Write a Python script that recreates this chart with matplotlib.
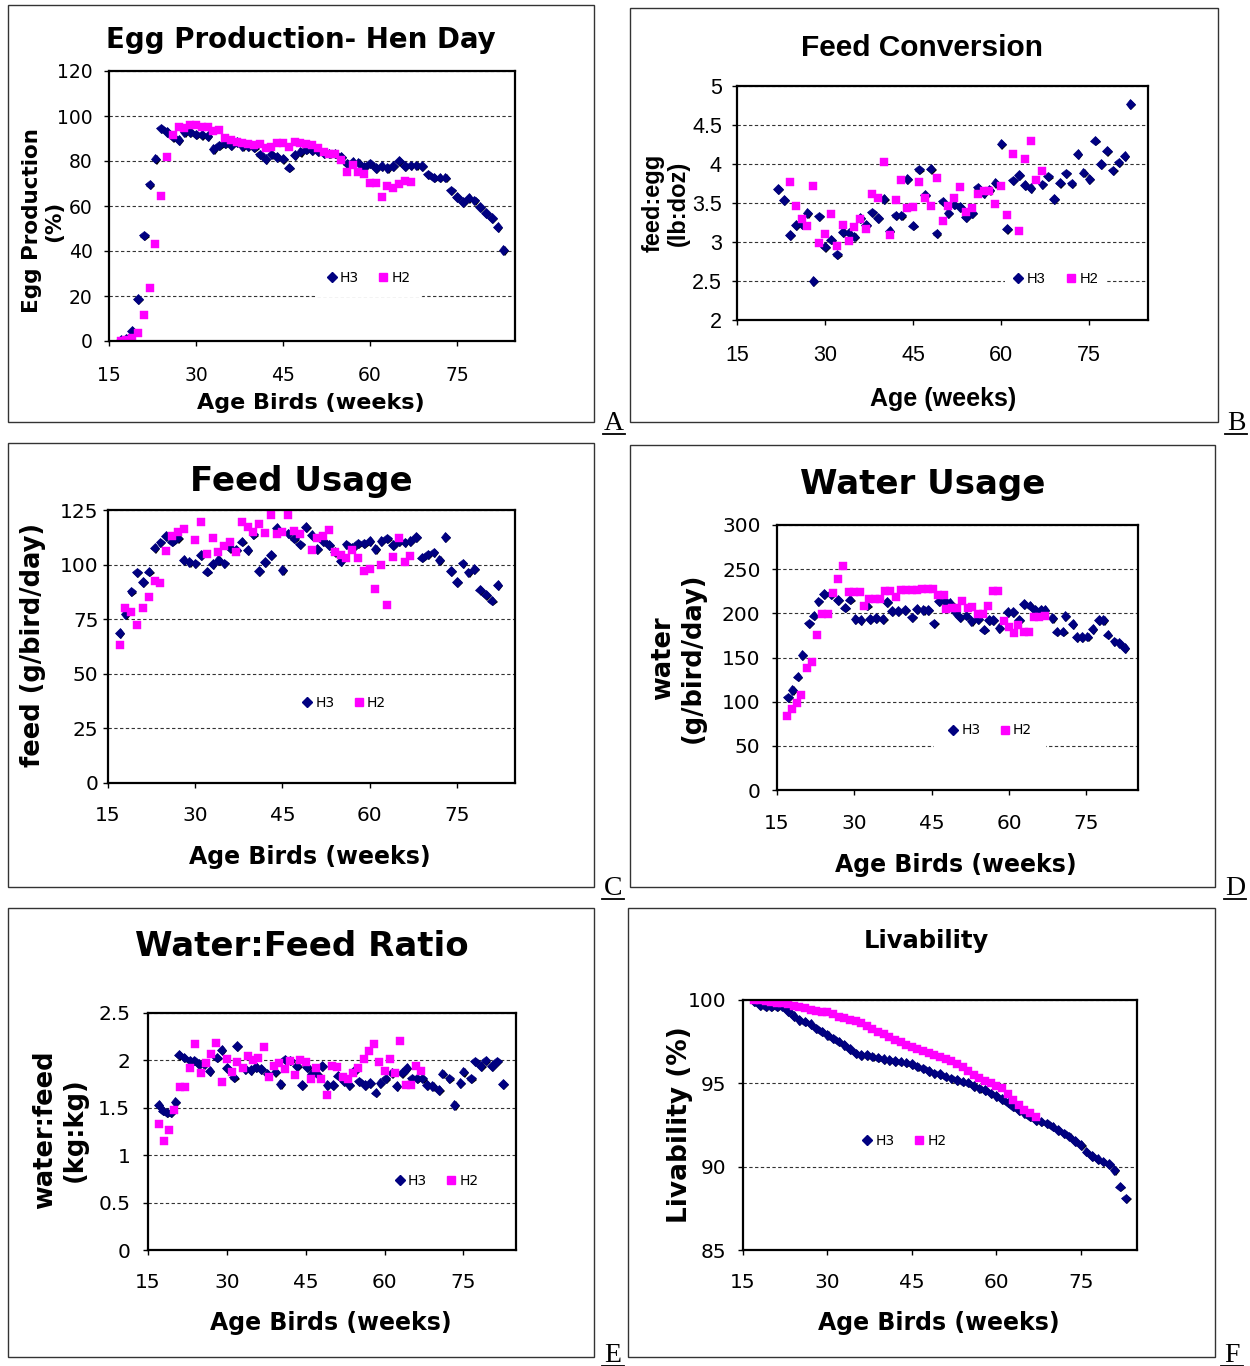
"""
Layer flock performance, H3 vs H2 - six scatter panels (A-F)
"""
import matplotlib
matplotlib.use('Agg')
import matplotlib.pyplot as plt
import matplotlib.patheffects as pe
from matplotlib.lines import Line2D
from matplotlib.patches import Rectangle
from matplotlib.ticker import FormatStrFormatter
import numpy as np

# ---------------- data ----------------
# A: egg production, hen day (%)
egg_h3 = [0.4, 1.2, 4.4, 18.6, 46.9, 69.6, 81, 94.5, 92.9, 90.8, 89.3, 92.9, 92.9, 91.8,
          91.7, 91.2, 85.4, 86.9, 87.8, 87.2, 88.5, 86.6, 86.5, 86, 82.9, 80.8, 83, 81.8,
          81, 77.1, 82.6, 84.1, 85.1, 84.8, 84.4, 83.6, 83.3, 83.3, 81.8, 78.9, 79.6, 79.3,
          77.4, 78.9, 76.9, 77.7, 76.9, 77.7, 80.1, 77.7, 78.1, 78.1, 77.7, 74.1, 72.6, 72.6,
          72.6, 67, 64, 61.8, 63.7, 62.5, 59.5, 56.8, 54.6, 50.6, 40.5]
egg_h2 = [0, 0.3, 1.2, 3.4, 11.6, 23.5, 43.2, 64.4, 81.8, 91.4, 95.2, 94.5, 95.8, 95.8,
          95.2, 94.9, 93.2, 93.8, 90.2, 89.3, 88.5, 87.8, 87.5, 87, 87.5, 85.9, 86.3, 87.8,
          87.8, 86.3, 88.5, 88.1, 87.5, 87, 86, 84.1, 83.3, 83.3, 80.4, 75.1, 78.1, 75.1,
          74.1, 70.2, 70.2, 64, 68.8, 67.9, 69.6, 71.1, 70.5]
egg_h3_wk = np.arange(17, 17 + len(egg_h3))
egg_h2_wk = np.arange(17, 17 + len(egg_h2))

# B: feed conversion (lb feed per dozen eggs)
fc_h3 = [3.68, 3.54, 3.09, 3.22, 3.23, 3.37, 2.5, 3.33, 2.94, 3.03, 2.84, 3.13, 3.12, 3.07,
         3.31, 3.22, 3.38, 3.31, 3.55, 3.14, 3.34, 3.34, 3.81, 3.21, 3.93, 3.6, 3.94, 3.11,
         3.52, 3.37, 3.48, 3.45, 3.32, 3.37, 3.7, 3.63, 3.67, 3.76, 4.26, 3.17, 3.79, 3.86,
         3.73, 3.69, np.nan, 3.74, 3.84, 3.55, 3.76, 3.88, 3.75, 4.13, 3.89, 3.81, 4.3, 4.0,
         4.17, 3.92, 4.02, 4.1, 4.77]
fc_h2 = [3.77, 3.46, 3.29, 3.2, 3.72, 2.99, 3.1, 3.36, 2.95, 3.22, 3.01, 3.19, 3.29, 3.17,
         3.62, 3.56, 4.02, 3.09, 3.54, 3.8, 3.44, 3.45, 3.77, 3.56, 3.46, 3.82, 3.27, 3.46,
         3.56, 3.7, 3.38, 3.43, 3.62, 3.66, 3.66, 3.49, 3.72, 3.35, 4.13, 3.14, 4.06, 4.29,
         3.79, 3.91]
fc_h3_wk = np.arange(22, 22 + len(fc_h3))
fc_h2_wk = np.arange(24, 24 + len(fc_h2))

# C: feed usage (g/bird/day)
feed_h3 = [68.7, 77.4, 87.7, 96.5, 92, 96.8, 107.7, 110.2, 113, 110.5, 112.3, 102.1, 101.1,
           100.6, 104.4, 96.8, 100.2, 102.1, 100.6, 107.7, 106.7, 110.5, 106.7, 113.8, 97.1,
           101.1, 104.4, 116.8, 97.6, 114.3, 112, 109.3, 117.3, 113.5, 107.1, 110.8, 109,
           105.9, 101.7, 109.3, 107.7, 109.7, 109.7, 110.8, 107.1, 110.8, 112, 109, 110.8,
           110.2, 110.8, 112.7, 103.2, 104.7, 105.6, 102.1, 112.7, 97.1, 92, 100.6, 96.5, 98,
           88.5, 86.2, 83.5, 90.7]
feed_h2 = [63.1, 80.1, 78.3, 72.5, 80.1, 85, 92.3, 91.7, 106.2, 113.2, 114.7, 116.5, np.nan,
           111.2, 119.6, 104.7, 112.3, 105.9, 108.6, 110.5, 105.6, 119.6, 117.3, 114.7, 118.7,
           114.4, 122.9, 114.1, 114.7, 122.9, 115.3, 114.1, np.nan, 106.8, 112, 113.2, 115.8,
           105.9, 104.4, 103.2, 106.8, 103.2, 97.1, 98, 88.9, 99.8, 81.3, 103.6, 112.3, 101.4,
           104.1]
feed_h3_wk = np.arange(17, 17 + len(feed_h3))
feed_h2_wk = np.arange(17, 17 + len(feed_h2))

# D: water usage (g/bird/day)
water_h3_wk = [17.1, 18, 19, 19.9, 21.2, 22.1, 23, 24.1, 25.5, 26.8, 28.2, 29.1, 30.2, 31.2,
               32.4, 33, 34.2, 35.5, 36.3, 37.3, 38.5, 39.8, 41.2, 42.1, 43.4, 44.3, 45.4,
               46.4, 47.6, 48.5, 49.6, 50.5, 51.7, 52.7, 54, 55.1, 56.1, 56.9, 58.1, 59.7,
               60.8, 61.9, 62.9, 64, 65, 66.2, 66.9, 68.4, 69.2, 70.4, 70.9, 72.3, 73.1, 74.1,
               75.2, 76.2, 77.4, 78.3, 79.1, 80.4, 81.4, 82.4]
water_h3 = [105, 113.3, 128.4, 152.6, 188.8, 197.5, 213.7, 222, 222, 215.3, 206.6, 215.6,
            193.7, 192.6, 208.8, 193.7, 194.9, 193.7, 212.6, 202.4, 202.4, 203.9, 195.6,
            205.1, 203.9, 203.9, 188.8, 213.7, 213.7, 211.5, 201.3, 195.6, 197.5, 191.1,
            193.7, 181.6, 192.6, 192.6, 183.2, 201.3, 201.3, 192.6, 210.7, 208.8, 203.9,
            203.9, 203.9, 194.9, 179.4, 179.4, 196.8, 188.1, 173, 173, 173.7, 182.4, 192.6,
            192.6, 176, 168.4, 166.2, 160.9]
water_h2_wk = [16.9, 17.9, 18.8, 19.7, 20.8, 21.8, 22.8, 23.8, 24.9, 25.8, 26.8, 27.8, 28.9,
               30, 31, 31.9, 32.9, 34, 35, 35.9, 36.9, 38, 39, 40, 41.1, 42.1, 43.1, 44.2,
               45.2, 46.3, 47.3, 47.8, 48.9, 49.9, 50.8, 52, 52.9, 54, 54.9, 55.9, 56.9, 57.9,
               59, 59.9, 60.9, 61.8, 62.9, 63.9, 64.8, 65.8, 66.9]
water_h2 = [84.2, 91.8, 98.9, 107.3, 138.2, 145, 176, 199.4, 199.4, 222.8, 238.7, 253.8, 224,
            224, 224, 208.5, 216.4, 216.4, 216.4, 225.1, 225.1, 218.3, 226.6, 226.6, 226.6,
            226.6, 227.7, 227.7, 227.7, 221.3, 221.3, 204.7, 206.2, 206.2, 213.7, 206.2,
            206.9, 199.4, 199.4, 208.5, 225.1, 225.1, 191.8, 185, 177.5, 186.9, 179, 179,
            196.4, 196.4, 197.5]

# E: water:feed ratio (kg:kg)
ratio_h3_wk = [17, 17.8, 18.6, 19.3, 20.2, 20.9, 21.9, 22.9, 23.8, 24.7, 25.7, 26.7, 28.1,
               29, 30, 31.3, 31.9, 33.5, 34.5, 35.5, 36.5, 37.7, 39.2, 40.2, 41, 42, 43.3,
               44.3, 45.2, 46.1, 47.1, 48.1, 49.1, 50.2, 51.1, 52.2, 53.3, 54.2, 55.1, 56.3,
               57.2, 58.3, 59.2, 60.2, 61.4, 62.3, 63.3, 64.2, 65.2, 66.2, 67.2, 68.1, 69.1,
               70.3, 71, 72.3, 73.3, 74.4, 75, 76.4, 77.2, 78.3, 79.2, 80.4, 81.4, 82.5]
ratio_h3 = [1.53, 1.47, 1.45, 1.45, 1.56, 2.06, 2.03, 2.0, 2.0, 1.96, 1.96, 1.89, 2.03, 2.11,
            1.92, 1.82, 2.15, 1.91, 1.9, 1.93, 1.91, 1.86, 1.88, 1.75, 2.01, 2.0, 1.94, 1.74,
            1.93, 1.86, 1.86, 1.94, 1.74, 1.74, 1.84, 1.78, 1.74, 1.89, 1.78, 1.74, 1.76,
            1.66, 1.76, 1.81, 1.87, 1.73, 1.87, 1.92, 1.81, 1.81, 1.81, 1.74, 1.73, 1.69,
            1.86, 1.81, 1.53, 1.76, 1.88, 1.81, 1.99, 1.94, 2.0, 1.94, 1.99, 1.75]
ratio_h2 = [1.33, 1.15, 1.27, 1.48, 1.72, 1.72, 1.92, 2.17, 1.87, 1.97, 2.07, 2.18, 1.77, 2.01,
            1.88, 1.98, 1.92, 2.05, 2.0, 2.03, 2.14, 1.82, 1.94, 1.97, 1.91, 1.99, 1.85, 2.0,
            1.98, 1.8, 1.92, 1.8, 1.64, 1.94, 1.93, 1.83, 1.8, 1.87, 1.92, 2.01, 2.1, 2.17,
            1.98, 1.89, 2.01, 1.87, 2.2, 1.74, 1.74, 1.94, 1.89]
ratio_h2_wk = np.arange(17, 17 + len(ratio_h2))

# F: livability (%)
liv_h3 = [99.9, 99.7, 99.6, 99.6, 99.6, 99.6, 99.35, 99.05, 98.8, 98.7, 98.55, 98.3, 98.1,
          97.9, 97.7, 97.5, 97.3, 97.05, 96.8, 96.7, 96.7, 96.6, 96.55, 96.45, 96.4, 96.35,
          96.3, 96.25, 96.15, 96.0, 95.9, 95.75, 95.6, 95.55, 95.4, 95.3, 95.2, 95.1, 95.05,
          94.85, 94.7, 94.6, 94.4, 94.25, 94.05, 93.85, 93.6, 93.4, 93.2, 93.0, 92.8, 92.7,
          92.6, 92.4, 92.2, 92.0, 91.8, 91.55, 91.3, 90.9, 90.65, 90.45, 90.3, 90.15, 89.8,
          88.8, 88.1]
liv_h2 = [100, 100, 99.95, 99.9, 99.85, 99.8, 99.75, 99.65, 99.58, 99.5, 99.4, 99.35, 99.3,
          99.28, 99.16, 99.0, 98.92, 98.82, 98.72, 98.62, 98.45, 98.28, 98.06, 97.95, 97.76,
          97.6, 97.45, 97.3, 97.2, 97.08, 96.95, 96.85, 96.7, 96.58, 96.47, 96.35, 96.15,
          96.0, 95.75, 95.5, 95.3, 95.12, 95.0, 94.85, 94.7, 94.36, 94.0, 93.7, 93.4, 93.2,
          92.96]
liv_h3_wk = np.arange(17, 17 + len(liv_h3))
liv_h2_wk = np.arange(17, 17 + len(liv_h2))

age_ticks = [15, 30, 45, 60, 75]
series_names = ['H3', 'H2']

# ---------------- styling ----------------
W, H = 1250, 1366
NAVY = '#000080'
MAGENTA = '#FF00FF'
SANS = ['DejaVu Sans']
NARROW = ['Liberation Sans Narrow', 'Liberation Sans']
SERIF = ['Liberation Serif', 'DejaVu Serif']
SHADOW = [pe.SimplePatchShadow(offset=(0.8, -0.8), shadow_rgbFace='black', alpha=1.0),
          pe.Normal()]
MS_D, MS_S = 4.8, 5.4

fig = plt.figure(figsize=(W / 100, H / 100), dpi=100)
fig.patch.set_facecolor('white')


def fx(x):
    return x / W


def fy(y):
    return 1 - y / H


def put_text(x, y, s, **kw):
    fig.text(fx(x), fy(y), s, **kw)


def panel(frame, box, letter, ylim, ystep, title, xlabel, ylabel, legend_at,
          h3, h2, font, sizes, pads, label_fmt='%g'):
    # outer frame of the panel
    fig.add_artist(Rectangle((fx(frame[0]), fy(frame[3])), fx(frame[2] - frame[0]),
                             (frame[3] - frame[1]) / H, transform=fig.transFigure,
                             fill=False, lw=1.0, ec='#333333'))
    # panel letter, underlined
    lx, ly = letter[1], letter[2]
    put_text(lx, ly, letter[0], family=SERIF, fontsize=20, ha='center', va='baseline')
    fig.add_artist(Line2D([fx(lx - 11), fx(lx + 11)], [fy(ly + 4), fy(ly + 4)],
                          transform=fig.transFigure, color='black', lw=1.3))

    x0, y0, x1, y1 = box
    ax = fig.add_axes([fx(x0), fy(y1), fx(x1 - x0), (y1 - y0) / H])
    ax.set_xlim(15, 85)
    ax.set_xticks(age_ticks)
    ax.set_ylim(*ylim)
    yt = np.arange(ylim[0], ylim[1] + ystep / 2, ystep)
    ax.set_yticks(yt)
    ax.yaxis.set_major_formatter(FormatStrFormatter(label_fmt))
    ax.yaxis.grid(True, color='#333333', lw=0.8, linestyle=(0, (3, 2.2)))
    ax.set_axisbelow(True)
    for sp in ax.spines.values():
        sp.set_linewidth(1.6)
        sp.set_color('black')
    ax.tick_params(axis='both', direction='out', length=3.8, width=1, colors='black',
                   labelsize=sizes['tick'])
    ax.tick_params(axis='x', pad=pads[0])
    ax.tick_params(axis='y', pad=pads[1])
    for lab in ax.get_xticklabels() + ax.get_yticklabels():
        lab.set_family(font)

    ax.plot(h3[0], h3[1], ls='none', marker='D', ms=MS_D, color=NAVY, mec=NAVY, mew=0.5,
            path_effects=SHADOW)
    ax.plot(h2[0], h2[1], ls='none', marker='s', ms=MS_S, color=MAGENTA, mec=MAGENTA,
            mew=0.3)

    hnd = [Line2D([], [], ls='none', marker='D', ms=MS_D, color=NAVY),
           Line2D([], [], ls='none', marker='s', ms=MS_S, color=MAGENTA)]
    ax.legend(hnd, series_names, loc='center', bbox_to_anchor=legend_at[:2], ncol=2,
              frameon=True, facecolor='white', edgecolor='none', framealpha=1,
              handlelength=0.7, handletextpad=0.25, columnspacing=1.4,
              borderpad=legend_at[2], prop={'family': font, 'size': sizes['legend']})

    put_text(title[1], title[2], title[0], family=font, fontsize=sizes['title'],
             fontweight='bold', ha='center', va='center')
    put_text(xlabel[1], xlabel[2], xlabel[0], family=font, fontsize=sizes['xlabel'],
             fontweight='bold', ha='center', va='center')
    put_text(ylabel[1], ylabel[2], ylabel[0], family=font, fontsize=sizes['ylabel'],
             fontweight='bold', ha='center', va='center', rotation=90,
             multialignment='center', linespacing=1.15)
    return ax


big = {'tick': 14.5, 'legend': 10, 'title': 24.5, 'xlabel': 17, 'ylabel': 18.5}

# A - egg production
panel((8, 5, 594, 422), (109, 71, 515, 341), ('A', 614, 430), (0, 120), 20,
      ('Egg Production- Hen Day', 301, 40), ('Age Birds (weeks)', 311, 403),
      ('Egg Production\n(%)', 43, 221), (0.64, 0.235, 0.9),
      (egg_h3_wk, egg_h3), (egg_h2_wk, egg_h2), SANS,
      {'tick': 13.5, 'legend': 10, 'title': 19.9, 'xlabel': 16, 'ylabel': 15.5}, (14, 8))

# B - feed conversion
panel((630, 8, 1218, 422), (737, 86, 1148, 320), ('B', 1236, 430), (2, 5), 0.5,
      ('Feed Conversion', 922, 48), ('Age (weeks)', 943, 399),
      ('feed:egg\n(lb:doz)', 666, 203), (0.775, 0.175, 0.5),
      (fc_h3_wk, fc_h3), (fc_h2_wk, fc_h2), NARROW,
      {'tick': 15.5, 'legend': 10.5, 'title': 21.5, 'xlabel': 18, 'ylabel': 17}, (14, 7))

# C - feed usage
panel((8, 443, 594, 887), (108, 510, 515, 783), ('C', 613, 895), (0, 125), 25,
      ('Feed Usage', 301, 481), ('Age Birds (weeks)', 310, 857),
      ('feed (g/bird/day)', 33, 645), (0.58, 0.293, 0.5),
      (feed_h3_wk, feed_h3), (feed_h2_wk, feed_h2), SANS, big, (13, 3))

# D - water usage
panel((630, 445, 1215, 887), (777, 525, 1138, 790), ('D', 1235, 895), (0, 300), 50,
      ('Water Usage', 923, 484), ('Age Birds (weeks)', 956, 865),
      ('water\n(g/bird/day)', 678, 658), (0.59, 0.225, 1.0),
      (water_h3_wk, water_h3), (water_h2_wk, water_h2), SANS, big, (13.5, 8))

# E - water:feed ratio
panel((8, 908, 594, 1357), (148, 1013, 516, 1250), ('E', 613, 1362), (0, 2.5), 0.5,
      ('Water:Feed Ratio', 302, 946), ('Age Birds (weeks)', 331, 1323),
      ('water:feed\n(kg:kg)', 60, 1130), (0.785, 0.291, 0.5),
      (ratio_h3_wk, ratio_h3), (ratio_h2_wk, ratio_h2), SANS, big, (13, 9))

# F - livability
panel((628, 908, 1215, 1357), (743, 1000, 1137, 1250), ('F', 1232, 1362), (85, 100), 5,
      ('Livability', 926, 941), ('Age Birds (weeks)', 939, 1323),
      ('Livability (%)', 680, 1125), (0.41, 0.436, 0.5),
      (liv_h3_wk, liv_h3), (liv_h2_wk, liv_h2), SANS,
      {'tick': 14.5, 'legend': 10, 'title': 17.5, 'xlabel': 17, 'ylabel': 19}, (13, 8))

fig.savefig('out.png', dpi=100, facecolor='white')
